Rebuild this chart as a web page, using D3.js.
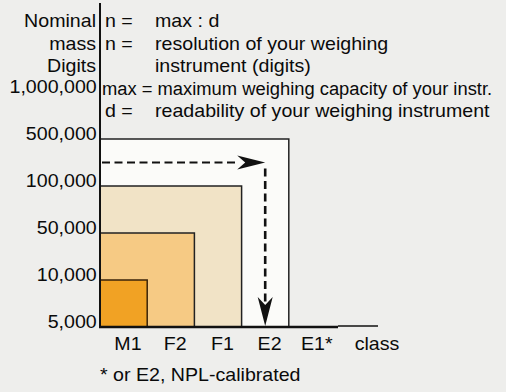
<!DOCTYPE html>
<html>
<head>
<meta charset="utf-8">
<script src="https://cdn.jsdelivr.net/npm/d3@7"></script>
<style>
  html, body { margin: 0; padding: 0; background: #eeeeec; }
  svg { display: block; }
  text { font-family: "Liberation Sans", Arial, sans-serif; font-size: 18px; fill: #0a0a0a; }
</style>
</head>
<body>
<svg id="chart" width="506" height="392"></svg>
<script>
// tiers of the vertical axis (nominal mass digits), bottom to top
const digitLevels = ["5,000", "10,000", "50,000", "100,000", "500,000", "1,000,000"];
// accuracy classes on the horizontal axis
const classes = ["M1", "F2", "F1", "E2", "E1*"];
// box per class: reaches up to this digit tier
const boxClasses = ["E2", "F1", "F2", "M1"];
const boxDigits = ["500,000", "100,000", "50,000", "10,000"];
const boxColors = ["#fbfbf9", "#f1e3c6", "#f6ca84", "#f1a224"];

// header text on the right of the axis
const legendKeys = ["n =", "n =", "", "", "d ="];
const legendTexts = ["max : d", "resolution of your weighing", "instrument (digits)",
  "max = maximum weighing capacity of your instr.", "readability of your weighing instrument"];
const axisTitle = ["Nominal", "mass", "Digits"];

const SX = 1.09; // the scan is a bit wider than the font
const FONT = "18px";

const svg = d3.select("#chart");

const x = d3.scaleBand()
    .domain(classes)
    .range([100, 336])
    .padding(0);

const y = d3.scalePoint()
    .domain(digitLevels)
    .range([327, 92]);

// boxes, biggest first
svg.append("g")
    .selectAll("rect")
    .data(boxClasses)
    .join("rect")
    .attr("x", x.range()[0])
    .attr("y", (d, i) => y(boxDigits[i]))
    .attr("width", d => x(d) + x.bandwidth() - x.range()[0])
    .attr("height", (d, i) => y(digitLevels[0]) - y(boxDigits[i]))
    .attr("fill", (d, i) => boxColors[i])
    .attr("stroke", (d, i) => i == 3 ? "#3a2308" : "#222")
    .attr("stroke-width", 1.5);

// dashed arrows: from the axis to E2, then down to the class
const arrowY = (y("500,000") + y("100,000")) / 2;
const arrowX = x("E2") + x.bandwidth() / 2;

svg.append("line")
    .attr("x1", x.range()[0] + 2).attr("x2", arrowX - 26)
    .attr("y1", arrowY).attr("y2", arrowY)
    .attr("stroke", "#111").attr("stroke-width", 2.2)
    .attr("stroke-dasharray", "8,4.5");

svg.append("path")
    .attr("d", `M${arrowX},${arrowY} L${arrowX - 28},${arrowY - 7} L${arrowX - 20},${arrowY} L${arrowX - 28},${arrowY + 7} Z`)
    .attr("fill", "#111");

svg.append("line")
    .attr("x1", arrowX).attr("x2", arrowX)
    .attr("y1", arrowY + 6).attr("y2", y("5,000") - 24)
    .attr("stroke", "#111").attr("stroke-width", 2.6)
    .attr("stroke-dasharray", "8,4.5");

svg.append("path")
    .attr("d", `M${arrowX},${y("5,000") - 1} L${arrowX - 7.5},${y("5,000") - 30} L${arrowX},${y("5,000") - 22} L${arrowX + 7.5},${y("5,000") - 30} Z`)
    .attr("fill", "#111");

// vertical axis with the digit tiers
const yAxis = svg.append("g")
    .attr("transform", "translate(100,0)")
    .call(d3.axisLeft(y).tickSize(0).tickPadding(3));
yAxis.select(".domain").remove();
yAxis.selectAll("text")
    .attr("dy", "0.05em")
    .attr("transform", `scale(${SX},1)`)
    .style("font-size", FONT)
    .style("font-family", "Liberation Sans, Arial, sans-serif")
    .attr("fill", "#0a0a0a");

svg.append("line")
    .attr("x1", 100).attr("x2", 100)
    .attr("y1", 3).attr("y2", 328)
    .attr("stroke", "#111").attr("stroke-width", 2);

// horizontal axis with the classes
const xAxis = svg.append("g")
    .attr("transform", `translate(0,${y("5,000")})`)
    .call(d3.axisBottom(x).tickSize(0).tickPadding(10));
xAxis.select(".domain").remove();
xAxis.selectAll(".tick text")
    .attr("x", 4)
    .attr("dy", "0.71em")
    .style("font-size", FONT)
    .style("font-family", "Liberation Sans, Arial, sans-serif")
    .attr("fill", "#0a0a0a")
    .attr("transform", `scale(${SX},1)`);

svg.append("line")
    .attr("x1", 99).attr("x2", 338)
    .attr("y1", 327).attr("y2", 327)
    .attr("stroke", "#111").attr("stroke-width", 2.4);
svg.append("line")
    .attr("x1", 338).attr("x2", 378)
    .attr("y1", 326).attr("y2", 326)
    .attr("stroke", "#111").attr("stroke-width", 1.6);

svg.append("text")
    .attr("transform", `translate(377,350) scale(${SX},1)`)
    .attr("text-anchor", "middle")
    .text("class");

svg.append("text")
    .attr("transform", `translate(100,381) scale(${SX},1)`)
    .text("* or E2, NPL-calibrated");

// axis title above the tiers
svg.append("g")
    .selectAll("text")
    .data(axisTitle)
    .join("text")
    .attr("transform", (d, i) => `translate(96,${27 + i * 22.5}) scale(${SX},1)`)
    .attr("text-anchor", "end")
    .text(d => d);

// header explanation
const legend = svg.append("g");
legend.selectAll("text.key")
    .data(legendKeys)
    .join("text")
    .attr("class", "key")
    .attr("transform", (d, i) => `translate(105,${27 + i * 22.5}) scale(${SX},1)`)
    .text(d => d);

// the "max =" line is set tighter in the original
legend.selectAll("text.desc")
    .data(legendTexts)
    .join("text")
    .attr("class", "desc")
    .attr("transform", (d, i) => i == 3
        ? `translate(102,${27 + i * 22.5}) scale(1.02,1)`
        : `translate(155,${27 + i * 22.5}) scale(${SX},1)`)
    .text(d => d);
</script>
</body>
</html>
